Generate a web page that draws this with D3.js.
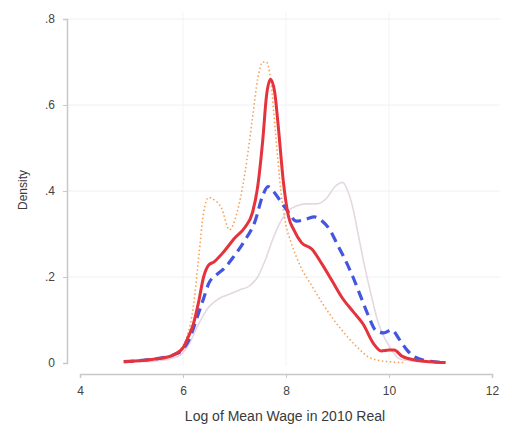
<!DOCTYPE html>
<html>
<head>
<meta charset="utf-8">
<script src="https://cdn.jsdelivr.net/npm/d3@7"></script>
<style>
  body { margin: 0; background: #fff; }
  svg { font-family: "Liberation Sans", Arial, sans-serif; }
</style>
</head>
<body>
<svg width="512" height="434"></svg>
<script>
// tick labels
var xTicks = [4, 6, 8, 10, 12];
var yTicks = [0, 0.2, 0.4, 0.6, 0.8];
var yTickLabels = ["0", ".2", ".4", ".6", ".8"];

// solid red
var redX = [4.85,5.2,5.5,5.8,6.0,6.1,6.2,6.3,6.4,6.5,6.6,6.8,7.0,7.2,7.35,7.45,7.55,7.62,7.7,7.78,7.85,7.95,8.05,8.15,8.3,8.5,8.7,8.9,9.1,9.3,9.5,9.7,9.85,10.0,10.1,10.25,10.5,10.8,11.1];
var redY = [0.003,0.006,0.01,0.018,0.035,0.06,0.09,0.14,0.2,0.228,0.235,0.26,0.29,0.315,0.35,0.41,0.52,0.62,0.66,0.63,0.55,0.42,0.34,0.31,0.28,0.265,0.23,0.19,0.15,0.12,0.09,0.045,0.028,0.03,0.03,0.016,0.007,0.003,0.001];

// dashed blue
var blueX = [4.85,5.2,5.5,5.8,6.0,6.1,6.2,6.3,6.4,6.5,6.65,6.8,7.0,7.2,7.4,7.55,7.65,7.75,7.9,8.05,8.2,8.4,8.55,8.7,8.85,9.0,9.15,9.3,9.45,9.6,9.75,9.9,10.05,10.2,10.35,10.5,10.8,11.1];
var blueY = [0.003,0.006,0.01,0.018,0.032,0.05,0.08,0.115,0.15,0.185,0.205,0.22,0.25,0.285,0.33,0.39,0.41,0.40,0.375,0.35,0.33,0.335,0.34,0.33,0.31,0.275,0.24,0.2,0.155,0.11,0.075,0.07,0.077,0.055,0.03,0.014,0.004,0.001];

// dotted orange
var orangeX = [4.85,5.2,5.5,5.8,6.0,6.1,6.2,6.3,6.4,6.5,6.6,6.75,6.9,7.05,7.2,7.35,7.45,7.55,7.62,7.7,7.8,7.9,8.0,8.1,8.3,8.5,8.7,8.9,9.2,9.4,9.6,9.8,10.0,10.3];
var orangeY = [0.003,0.006,0.01,0.02,0.04,0.07,0.13,0.24,0.35,0.385,0.38,0.36,0.31,0.35,0.44,0.57,0.66,0.70,0.70,0.66,0.53,0.40,0.32,0.28,0.22,0.18,0.14,0.105,0.06,0.035,0.014,0.006,0.003,0.001];

// faint grey
var greyX = [4.85,5.5,5.9,6.1,6.3,6.5,6.7,6.9,7.1,7.3,7.45,7.6,7.75,7.9,8.05,8.2,8.4,8.6,8.8,8.95,9.1,9.2,9.3,9.4,9.5,9.65,9.8,10.0,10.2,10.5,11.0];
var greyY = [0.002,0.005,0.015,0.04,0.09,0.13,0.15,0.16,0.17,0.18,0.2,0.24,0.29,0.33,0.355,0.365,0.37,0.37,0.385,0.41,0.42,0.4,0.36,0.3,0.24,0.16,0.09,0.04,0.01,0.004,0.001];

var svg = d3.select("svg");

var x = d3.scaleLinear().domain([4, 12]).range([80, 492]);
var y = d3.scaleLinear().domain([0, 0.8]).range([363, 19]);

// grid
svg.append("g").selectAll("line")
    .data(yTicks.slice(1))
    .enter().append("line")
    .attr("x1", 67).attr("x2", 500)
    .attr("y1", function(d) { return y(d); })
    .attr("y2", function(d) { return y(d); })
    .attr("stroke", "#f0f0f0");
svg.append("g").selectAll("line")
    .data(xTicks.slice(1, 4))
    .enter().append("line")
    .attr("x1", function(d) { return x(d); })
    .attr("x2", function(d) { return x(d); })
    .attr("y1", 12).attr("y2", 366)
    .attr("stroke", "#f3f3f3");

// axes
var xAxis = svg.append("g")
    .attr("transform", "translate(0,374)")
    .call(d3.axisBottom(x).tickValues(xTicks).tickSize(4).tickPadding(8).tickFormat(d3.format("d")));
var yAxis = svg.append("g")
    .attr("transform", "translate(67,0)")
    .call(d3.axisLeft(y).tickValues(yTicks).tickSize(4).tickPadding(8)
        .tickFormat(function(d, i) { return yTickLabels[i]; }));

[xAxis, yAxis].forEach(function(a) {
    a.select(".domain").attr("stroke", "#c8c8c8").attr("stroke-width", 1.5);
    a.selectAll(".tick line").attr("stroke", "#c8c8c8");
    a.selectAll("text").attr("fill", "#444").style("font-size", "12px");
});

svg.append("text")
    .attr("x", 285).attr("y", 421)
    .attr("text-anchor", "middle")
    .attr("fill", "#3a3a3a")
    .style("font-size", "14px")
    .text("Log of Mean Wage in 2010 Real");

svg.append("text")
    .attr("transform", "translate(27,190) rotate(-90)")
    .attr("text-anchor", "middle")
    .attr("fill", "#3a3a3a")
    .style("font-size", "12px")
    .text("Density");

var line = d3.line()
    .x(function(d) { return x(d[0]); })
    .y(function(d) { return y(d[1]); })
    .curve(d3.curveMonotoneX);

function pts(xs, ys) { return xs.map(function(v, i) { return [v, ys[i]]; }); }

svg.append("path").datum(pts(greyX, greyY))
    .attr("d", line).attr("fill", "none")
    .attr("stroke", "#e4d8e2").attr("stroke-width", 1.6);

svg.append("path").datum(pts(orangeX, orangeY))
    .attr("d", line).attr("fill", "none")
    .attr("stroke", "#f2a35c").attr("stroke-width", 1.6)
    .attr("stroke-dasharray", "1.5,2.5");

svg.append("path").datum(pts(blueX, blueY))
    .attr("d", line).attr("fill", "none")
    .attr("stroke", "#4455e0").attr("stroke-width", 3.2)
    .attr("stroke-dasharray", "10,6");

svg.append("path").datum(pts(redX, redY))
    .attr("d", line).attr("fill", "none")
    .attr("stroke", "#e5333d").attr("stroke-width", 3);
</script>
</body>
</html>
